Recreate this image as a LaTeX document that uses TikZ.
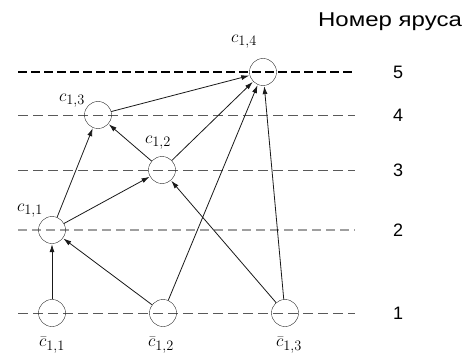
\documentclass[tikz,border=0pt]{standalone}
\usepackage{fontspec}
\usetikzlibrary{arrows.meta}
\newfontfamily\sansrus{Liberation Sans}
\begin{document}
\begin{tikzpicture}[x=1pt, y=-1pt, >={Latex[length=8pt,width=5pt]}, font=\fontsize{19}{21}\selectfont,
    vertex/.style={draw, circle, minimum size=27pt, inner sep=0pt, gray!30!black},
    edge/.style={->, line width=0.8pt, gray!20!black, shorten >=0.5pt},
    tier/.style={dash pattern=on 10pt off 5pt, gray!70!black},
    tiernum/.style={font=\sansrus\fontsize{18}{20}\selectfont}]
  \useasboundingbox (0,0) rectangle (465,358);

  % ярусы
  \draw[tier, very thick, black, dash pattern=on 9pt off 4pt] (18,72) -- (355,72);
  \draw[tier] (18,115) -- (355,115);
  \draw[tier] (18,170) -- (355,170);
  \draw[tier, line width=2.2pt, gray!75, dash pattern=on 9pt off 5pt] (18,230) -- (355,230);
  \draw[tier] (18,313) -- (355,313);

  % номера ярусов
  \node[tiernum, font=\sansrus\fontsize{20}{22}\selectfont, xscale=1.2, transform shape] (title) at (390,22) {Номер яруса};
  \node[tiernum] (n5) at (398,72) {5};
  \node[tiernum] (n4) at (398,115) {4};
  \node[tiernum] (n3) at (398,170) {3};
  \node[tiernum] (n2) at (398,230) {2};
  \node[tiernum] (n1) at (398,313) {1};

  % вершины
  \node[vertex] (b1) at (52,313) {};
  \node[vertex] (b2) at (163,313) {};
  \node[vertex] (b3) at (285,313) {};
  \node[vertex] (c11) at (52,230) {};
  \node[vertex] (c12) at (162,170) {};
  \node[vertex] (c13) at (98,115) {};
  \node[vertex] (c14) at (263,72) {};

  % подписи
  \node (l14) at (244,42) {$c_{1,4}$};
  \node (l13) at (72,101) {$c_{1,3}$};
  \node (l12) at (158,143) {$c_{1,2}$};
  \node (l11) at (30,211) {$c_{1,1}$};
  \node (lb1) at (52,345) {$\bar{c}_{1,1}$};
  \node (lb2) at (161,345) {$\bar{c}_{1,2}$};
  \node (lb3) at (289,345) {$\bar{c}_{1,3}$};

  % дуги
  \draw[edge] (b1) -- (c11);
  \draw[edge] (b2) -- (c11);
  \draw[edge] (b2) -- (c14);
  \draw[edge] (b3) -- (c12);
  \draw[edge] (b3) -- (c14);
  \draw[edge] (c11) -- (c13);
  \draw[edge] (c11) -- (c12);
  \draw[edge] (c12) -- (c13);
  \draw[edge] (c12) -- (c14);
  \draw[edge] (c13) -- (c14);
\end{tikzpicture}
\end{document}
